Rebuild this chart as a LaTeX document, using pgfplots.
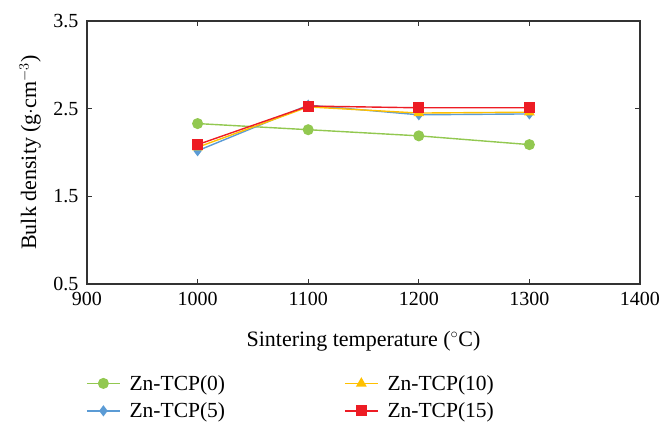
\documentclass[border=0pt]{standalone}
\usepackage{pgfplots}
\pgfplotsset{compat=1.18}
\usepackage{fontspec}
\setmainfont{Liberation Serif}
\definecolor{cgreen}{RGB}{146,200,80}
\definecolor{cblue}{RGB}{91,155,213}
\definecolor{corange}{RGB}{255,192,0}
\definecolor{cred}{RGB}{237,28,36}
\begin{document}
\begin{tikzpicture}
\path[use as bounding box] (-87pt,-137pt) rectangle (575pt,284pt);
\begin{axis}[
  at={(0pt,0pt)}, anchor=south west,
  scale only axis,
  width=553pt, height=263pt,
  xmin=900, xmax=1400, ymin=0.5, ymax=3.5,
  xtick={900,1000,...,1400}, ytick={0.5,1.5,2.5,3.5},
  tick align=inside,
  major tick length=5pt,
  tick style={black!80, line width=0.9pt},
  /pgf/number format/assume math mode=true,
  xticklabel style={/pgf/number format/1000 sep={}, yshift=-5pt},
  yticklabel style={/pgf/number format/fixed,/pgf/number format/precision=1,/pgf/number format/fixed zerofill, xshift=-5pt},
  tick label style={font=\fontsize{20}{22}\selectfont},
  xlabel={Sintering temperature ($^{\circ}$C)},
  ylabel={Bulk density (g$\cdot$cm$^{-3}$)},
  every axis x label/.style={at={(axis description cs:0.5,-0.217)}, anchor=center, font=\fontsize{22}{25}\selectfont},
  every axis y label/.style={at={(axis description cs:-0.103,0.5)}, rotate=90, anchor=center, font=\fontsize{22}{25}\selectfont},
  axis line style={black!80, line width=1.3pt},
  legend style={at={(-4pt,-87pt)}, anchor=north west, draw=none, fill=none, font=\fontsize{21.5}{24}\selectfont, row sep=7pt,
    /tikz/every even column/.append style={column sep=117pt},
    /tikz/every odd column/.append style={column sep=7pt}},
  legend columns=2,
  legend cell align=left,
  legend transposed=true,
  legend image code/.code={\draw[mark repeat=2,mark phase=2,#1] plot coordinates {(0pt,0pt)(16.5pt,0pt)(33pt,0pt)};},
  every axis plot/.append style={line width=1.4pt},
]
\addplot[cgreen, mark=*, mark size=4.8pt] coordinates {(1000,2.33) (1100,2.26) (1200,2.19) (1300,2.09)};
\addlegendentry{Zn-TCP(0)}
\addplot[cblue, mark=diamond*, mark size=4.5pt] coordinates {(1000,2.02) (1100,2.54) (1200,2.43) (1300,2.44)};
\addlegendentry{Zn-TCP(5)}
\addplot[corange, mark=triangle*, mark size=4.8pt] coordinates {(1000,2.06) (1100,2.52) (1200,2.45) (1300,2.46)};
\addlegendentry{Zn-TCP(10)}
\addplot[cred, mark=square*, mark size=4.8pt] coordinates {(1000,2.09) (1100,2.53) (1200,2.51) (1300,2.51)};
\addlegendentry{Zn-TCP(15)}
\end{axis}
\end{tikzpicture}
\end{document}
